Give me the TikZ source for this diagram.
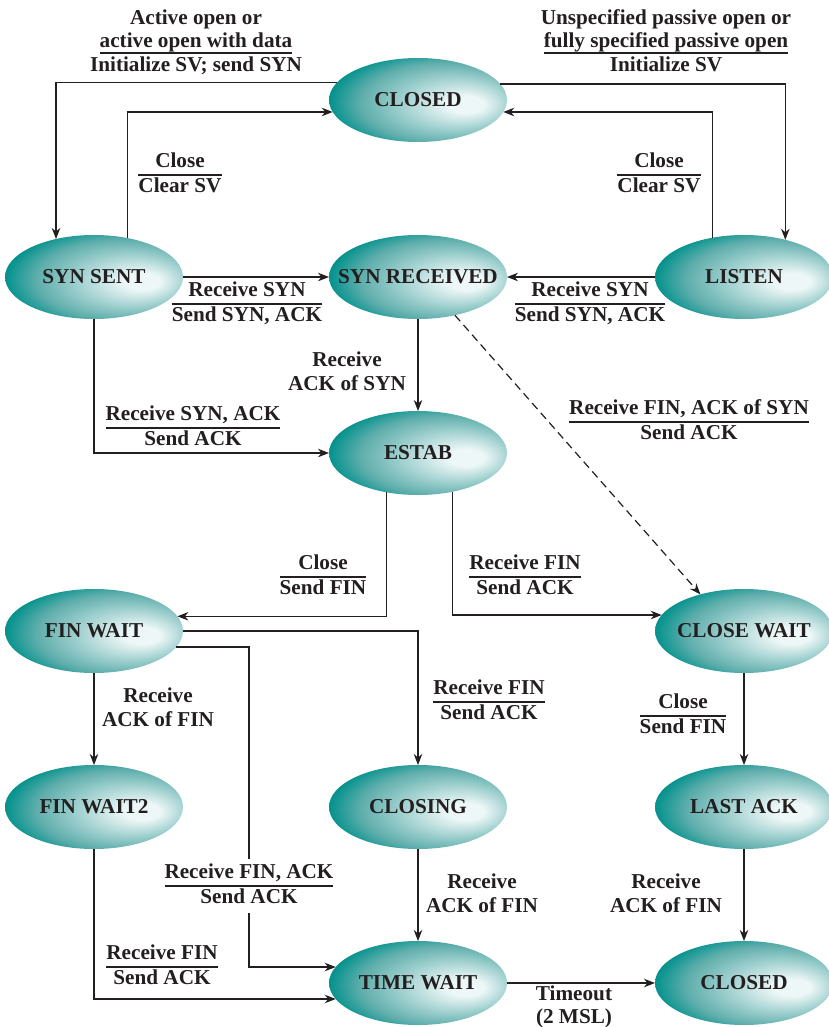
\documentclass[tikz,border=0pt]{standalone}
\usepackage{fontspec}
\setmainfont{Liberation Serif}
\usetikzlibrary{shapes.geometric,arrows.meta}

\definecolor{ink}{HTML}{231F20}
\definecolor{statedark}{HTML}{00918C}
\definecolor{statemid}{HTML}{5FAEAC}
\definecolor{statelight}{HTML}{A9D5D4}
\definecolor{statehi}{HTML}{EEF7F7}
\pgfdeclareradialshading{stateshade}{\pgfpoint{15bp}{-3bp}}{color(0bp)=(statehi); color(5bp)=(statehi); color(14bp)=(statelight); color(24bp)=(statemid); color(31bp)=(statedark); color(50bp)=(statedark)}

\setlength{\arrayrulewidth}{1.2pt}
\newcommand{\trans}[2]{\begin{tabular}{@{}c@{}}#1\\\hline #2\end{tabular}}
\newsavebox{\ulbox}
\newcommand{\ulined}[1]{\sbox{\ulbox}{#1}\rlap{\rule[-6pt]{\wd\ulbox}{1.2pt}}\usebox{\ulbox}}

\begin{document}
\begin{tikzpicture}[x=1pt,y=-1pt,
  font=\bfseries\fontsize{21.2}{23.5}\selectfont,
  state/.style={ellipse,minimum width=178pt,minimum height=84pt,inner xsep=-40pt,inner ysep=0pt,outer sep=0pt,shade,shading=stateshade,text=ink},
  cond/.style={text=ink,align=center,inner sep=1pt},
  flow/.style={draw=ink,line width=1.2pt,-{Stealth[length=11pt,width=8.5pt,inset=3.5pt]}}]
  \useasboundingbox (0,0) rectangle (829,1027);

  \node[state] (closed) at (418,100) {CLOSED};
  \node[state] (synsent) at (94,277) {SYN SENT};
  \node[state] (synrec) at (418,277) {SYN RECEIVED};
  \node[state] (listen) at (744,277) {LISTEN};
  \node[state] (estab) at (418,453) {ESTAB};
  \node[state] (finwait) at (94,631) {FIN WAIT};
  \node[state] (closewait) at (744,631) {CLOSE WAIT};
  \node[state] (finwaitb) at (94,807) {FIN WAIT2};
  \node[state] (closing) at (418,807) {CLOSING};
  \node[state] (lastack) at (744,807) {LAST ACK};
  \node[state] (timewait) at (418,983) {TIME WAIT};
  \node[state] (closedb) at (744,983) {CLOSED};

  \draw[flow] (closed.168.2) -| (synsent.135);
  \draw[flow] (synsent.49.8) |- (closed.188.7);
  \draw[flow] (closed.11.8) -| (listen.42.3);
  \draw[flow] (listen.129.2) |- (closed.-8.7);
  \draw[flow] (synsent.east) -- (synrec.west);
  \draw[flow] (listen.west) -- (synrec.east);
  \draw[flow] (synrec.south) -- (estab.north);
  \draw[flow] (synsent.south) |- (estab.west);
  \draw[flow,dash pattern=on 8pt off 5pt] (synrec.-46) -- (closewait.140);
  \draw[flow] (estab.231.8) |- (finwait.10.2);
  \draw[flow] (estab.-48.8) |- (closewait.169.8);
  \draw[flow] (finwait.east) -| (closing.north);
  \coordinate (fwbend) at (249,900);
  \draw[flow] (finwait.-11.8) -| (fwbend) |- (timewait.169.8);
  \draw[flow] (finwait.south) -- (finwaitb.north);
  \draw[flow] (finwaitb.south) |- (timewait.-169.8);
  \draw[flow] (closing.south) -- (timewait.north);
  \draw[flow] (timewait.east) -- (closedb.west);
  \draw[flow] (closewait.south) -- (lastack.north);
  \draw[flow] (lastack.south) -- (closedb.north);

  \node[cond] (l-actopen) at (196,43) {\begin{tabular}{@{}c@{}}Active open or\\\ulined{active open with data}\\Initialize SV; send SYN\end{tabular}};
  \node[cond] (l-pasopen) at (666,43) {\begin{tabular}{@{}c@{}}Unspecified passive open or\\\ulined{fully specified passive open}\\Initialize SV\end{tabular}};
  \node[cond] (l-closeleft) at (180,175) {\trans{Close}{Clear SV}};
  \node[cond] (l-closeright) at (659,175) {\trans{Close}{Clear SV}};
  \node[cond] (l-synleft) at (247,304) {\trans{Receive SYN}{Send SYN, ACK}};
  \node[cond] (l-synright) at (590,304) {\trans{Receive SYN}{Send SYN, ACK}};
  \node[cond] (l-acksyn) at (347,371) {Receive\\ACK of SYN};
  \node[cond] (l-synack) at (193,428) {\trans{Receive SYN, ACK}{Send ACK}};
  \node[cond] (l-finacksyn) at (689,422) {\trans{Receive FIN, ACK of SYN}{Send ACK}};
  \node[cond] (l-closefin) at (323,577) {\trans{Close}{Send FIN}};
  \node[cond] (l-finestab) at (525,577) {\trans{Receive FIN}{Send ACK}};
  \node[cond] (l-ackfinwait) at (158,707) {Receive\\ACK of FIN};
  \node[cond] (l-finclosing) at (489,702) {\trans{Receive FIN}{Send ACK}};
  \node[cond] (l-closefinb) at (683,716) {\trans{Close}{Send FIN}};
  \node[cond,fill=white,inner sep=3pt] (l-finack) at (249,886) {\trans{Receive FIN, ACK}{Send ACK}};
  \node[cond] (l-ackclosing) at (482,893) {Receive\\ACK of FIN};
  \node[cond] (l-acklast) at (666,893) {Receive\\ACK of FIN};
  \node[cond] (l-finwaitb) at (162,967) {\trans{Receive FIN}{Send ACK}};
  \node[cond] (l-timeout) at (574,1007) {Timeout\\(2 MSL)};
\end{tikzpicture}
\end{document}
